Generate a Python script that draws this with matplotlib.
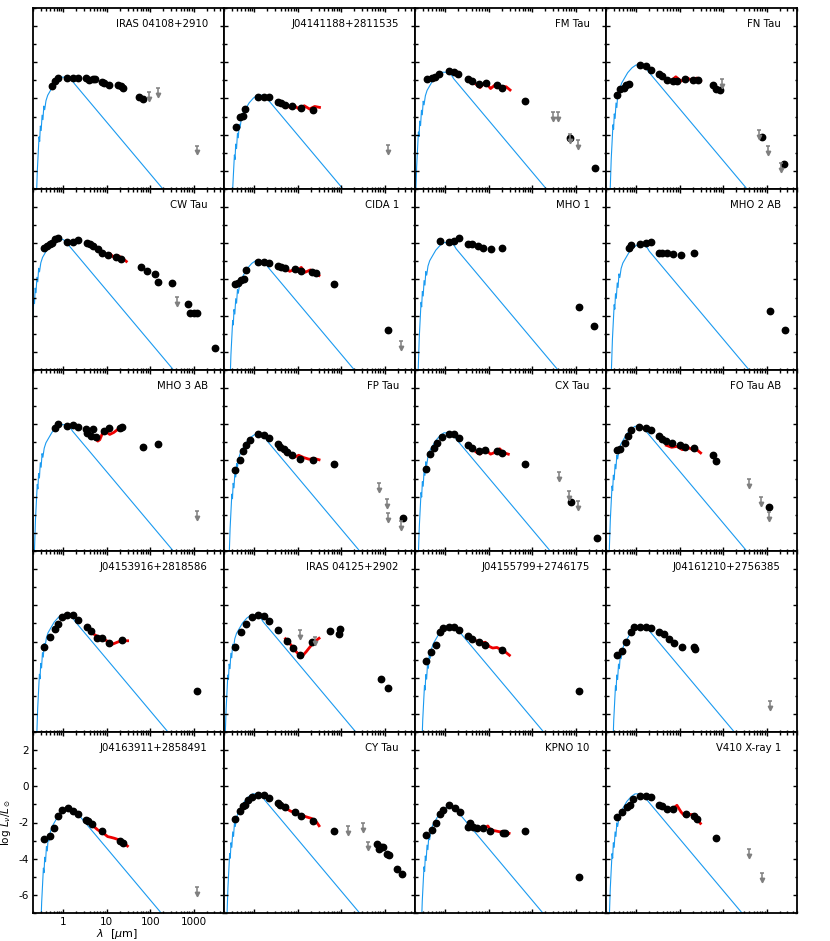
import matplotlib
matplotlib.use("Agg")
import matplotlib.pyplot as plt
import matplotlib.ticker as mticker
import numpy as np

plt.rcParams['font.family'] = 'DejaVu Sans'
plt.rcParams['axes.unicode_minus'] = False

names = ["IRAS 04108+2910", "J04141188+2811535", "FM Tau", "FN Tau",
         "CW Tau", "CIDA 1", "MHO 1", "MHO 2 AB",
         "MHO 3 AB", "FP Tau", "CX Tau", "FO Tau AB",
         "J04153916+2818586", "IRAS 04125+2902", "J04155799+2746175", "J04161210+2756385",
         "J04163911+2858491", "CY Tau", "KPNO 10", "V410 X-ray 1"]

# photometry (wavelength in micron, log L)
phot_wl = [
    [0.55, 0.64, 0.77, 1.24, 1.68, 2.15, 3.35, 3.85, 4.7, 5.4, 7.7, 8.6, 11.4, 17.7, 20.9, 23.3, 55, 67],
    [0.37, 0.46, 0.54, 0.62, 1.24, 1.63, 2.15, 3.45, 4.2, 5.2, 7.3, 12.0, 22.0],
    [0.38, 0.48, 0.58, 0.73, 1.2, 1.6, 2.0, 3.3, 4.2, 6.0, 8.8, 15.4, 20.0, 67, 745, 2740],
    [0.356, 0.43, 0.51, 0.585, 0.67, 1.24, 1.63, 2.15, 3.26, 3.95, 5.2, 6.9, 8.6, 13.0, 19.8, 26.0, 57, 69, 83, 765, 2520],
    [0.366, 0.42, 0.48, 0.55, 0.64, 0.77, 1.24, 1.68, 2.2, 3.55, 4.1, 4.7, 6.2, 7.7, 10.7, 16.3, 21.5, 61.5, 86, 130, 149, 324, 724, 832, 1040, 1190, 3140],
    [0.366, 0.43, 0.50, 0.57, 0.65, 1.24, 1.63, 2.15, 3.45, 4.2, 5.2, 8.6, 12.0, 21.0, 26.0, 67, 1190],
    [0.77, 1.2, 1.6, 2.1, 3.26, 4.2, 5.5, 7.3, 11.0, 20.0, 1190, 2590],
    [0.67, 0.77, 1.24, 1.63, 2.15, 3.26, 3.95, 5.2, 6.9, 10.7, 21.0, 1190, 2590],
    [0.64, 0.77, 1.24, 1.68, 2.2, 3.35, 3.55, 4.3, 4.7, 5.7, 8.85, 11.4, 20.3, 22.7, 69, 149],
    [0.366, 0.456, 0.54, 0.64, 0.79, 1.24, 1.63, 2.15, 3.45, 3.96, 4.7, 5.5, 7.3, 11.4, 22.7, 67, 2660],
    [0.356, 0.44, 0.55, 0.65, 0.82, 1.2, 1.6, 2.1, 3.26, 4.07, 5.8, 8.4, 15.4, 20.3, 67, 787, 3150],
    [0.356, 0.43, 0.54, 0.65, 0.77, 1.17, 1.63, 2.15, 3.26, 3.96, 4.7, 6.5, 9.9, 13.0, 21.0, 57, 69, 1150],
    [0.366, 0.48, 0.64, 0.77, 0.94, 1.24, 1.68, 2.2, 3.55, 4.4, 5.8, 7.7, 11.4, 22.7, 1190],
    [0.366, 0.50, 0.65, 0.86, 1.24, 1.63, 2.15, 3.45, 5.5, 7.9, 11.4, 21.0, 55, 88, 96, 807, 1190],
    [0.356, 0.47, 0.60, 0.77, 0.86, 1.2, 1.6, 2.1, 3.26, 4.2, 5.8, 8.4, 20.3, 1190],
    [0.356, 0.47, 0.585, 0.75, 0.89, 1.24, 1.63, 2.15, 3.26, 4.3, 5.7, 7.5, 11.4, 21.0, 22.7],
    [0.35, 0.48, 0.62, 0.77, 0.92, 1.25, 1.68, 2.19, 3.27, 3.7, 4.6, 7.8, 20.1, 23.9],
    [0.366, 0.456, 0.54, 0.62, 0.71, 0.86, 1.24, 1.63, 2.15, 3.45, 3.96, 5.2, 8.6, 12.0, 22.0, 67, 667, 724, 809, 903, 1160, 1260, 1910, 2450],
    [0.357, 0.49, 0.61, 0.755, 0.9, 1.23, 1.66, 2.15, 3.33, 3.63, 4.3, 5.3, 7.3, 10.7, 21.5, 24.0, 68, 1210],
    [0.356, 0.47, 0.62, 0.71, 0.82, 1.24, 1.63, 2.15, 3.26, 3.96, 5.2, 6.9, 14.2, 21.0, 24.7, 69],
]
phot_y = [
    [-1.31, -1.05, -0.85, -0.85, -0.85, -0.89, -0.87, -0.98, -0.91, -0.95, -1.07, -1.13, -1.24, -1.27, -1.33, -1.44, -1.93, -2.04],
    [-3.55, -3.04, -2.95, -2.58, -1.89, -1.89, -1.89, -2.18, -2.25, -2.36, -2.40, -2.55, -2.64],
    [-0.91, -0.87, -0.82, -0.67, -0.47, -0.55, -0.62, -0.91, -1.04, -1.22, -1.13, -1.27, -1.40, -2.15, -4.18, -5.82],
    [-1.82, -1.49, -1.40, -1.27, -1.22, -0.13, -0.22, -0.40, -0.67, -0.76, -0.98, -1.04, -1.04, -0.95, -1.00, -0.98, -1.27, -1.49, -1.53, -4.13, -5.62],
    [-0.24, -0.15, -0.02, 0.04, 0.22, 0.27, 0.09, 0.09, 0.16, 0.04, -0.02, -0.15, -0.33, -0.51, -0.65, -0.75, -0.87, -1.33, -1.51, -1.69, -2.15, -2.20, -3.33, -3.87, -3.87, -3.87, -5.78],
    [-2.24, -2.20, -2.05, -1.96, -1.47, -1.05, -1.05, -1.11, -1.24, -1.29, -1.36, -1.42, -1.55, -1.60, -1.65, -2.24, -4.78],
    [0.13, 0.09, 0.13, 0.31, -0.02, -0.02, -0.15, -0.27, -0.33, -0.24, -3.51, -4.55],
    [-0.27, -0.09, -0.02, 0.00, 0.09, -0.56, -0.51, -0.56, -0.60, -0.64, -0.56, -3.75, -4.78],
    [-0.20, 0.04, -0.07, -0.02, -0.15, -0.25, -0.47, -0.62, -0.25, -0.69, -0.38, -0.20, -0.20, -0.15, -1.25, -1.07],
    [-2.53, -1.96, -1.47, -1.16, -0.87, -0.56, -0.60, -0.75, -1.11, -1.24, -1.35, -1.53, -1.71, -1.89, -1.98, -2.20, -5.16],
    [-2.47, -1.65, -1.29, -1.05, -0.69, -0.51, -0.51, -0.75, -1.16, -1.29, -1.47, -1.42, -1.47, -1.60, -2.20, -4.29, -6.29],
    [-1.42, -1.35, -1.05, -0.62, -0.29, -0.15, -0.20, -0.33, -0.65, -0.80, -0.93, -1.02, -1.16, -1.24, -1.29, -1.71, -2.02, -4.56],
    [-2.33, -1.73, -1.31, -1.02, -0.65, -0.51, -0.55, -0.82, -1.20, -1.42, -1.78, -1.82, -2.09, -1.91, -4.76],
    [-2.33, -1.49, -1.05, -0.64, -0.55, -0.58, -0.87, -1.36, -1.96, -2.36, -2.73, -2.00, -1.42, -1.60, -1.31, -4.09, -4.58],
    [-3.05, -2.58, -2.18, -1.45, -1.27, -1.18, -1.18, -1.36, -1.67, -1.85, -2.04, -2.22, -2.45, -4.76],
    [-2.73, -2.51, -2.04, -1.45, -1.18, -1.18, -1.18, -1.24, -1.45, -1.60, -1.85, -2.09, -2.33, -2.33, -2.40],
    [-2.91, -2.73, -2.32, -1.64, -1.33, -1.22, -1.36, -1.53, -1.86, -1.92, -2.08, -2.45, -3.02, -3.15],
    [-1.78, -1.38, -1.09, -1.02, -0.78, -0.60, -0.47, -0.47, -0.65, -0.91, -1.02, -1.15, -1.42, -1.64, -1.93, -2.47, -3.20, -3.45, -3.33, -3.38, -3.75, -3.82, -4.55, -4.84],
    [-2.69, -2.41, -2.05, -1.53, -1.31, -1.05, -1.22, -1.42, -2.23, -2.05, -2.27, -2.32, -2.32, -2.45, -2.56, -2.60, -2.45, -5.00],
    [-1.69, -1.42, -1.15, -1.02, -0.69, -0.51, -0.51, -0.60, -1.02, -1.09, -1.24, -1.27, -1.51, -1.64, -1.78, -2.87],
]

# IRS spectra (red)
irs_wl = [
    [],
    [5.0, 6.6, 8.3, 10.7, 14.1, 18.6, 24.5, 31.6],
    [5.1, 6.3, 8.3, 11.0, 14.5, 19.1, 25.1, 30.9],
    [4.7, 6.2, 8.1, 10.7, 14.1, 18.6, 24.5, 30.2],
    [5.1, 6.2, 7.7, 9.3, 11.7, 14.1, 18.6, 22.7, 28.2],
    [5.2, 6.5, 7.9, 9.5, 12.0, 14.8, 19.5, 24.5, 30.9],
    [],
    [],
    [5.4, 6.2, 6.9, 8.1, 9.5, 11.7, 14.5, 18.6, 22.7],
    [5.2, 6.5, 8.1, 10.5, 13.8, 18.2, 24.0, 30.9],
    [5.1, 6.3, 8.3, 11.0, 14.5, 17.8, 21.4, 28.2],
    [4.9, 6.5, 8.6, 11.4, 15.0, 19.8, 24.5, 30.2],
    [4.7, 6.2, 8.1, 10.7, 13.5, 17.4, 21.4, 30.2],
    [5.2, 6.9, 9.1, 12.0, 15.8, 20.9, 26.1, 30.9],
    [5.1, 6.3, 8.3, 10.2, 12.3, 15.4, 19.2, 23.3, 29.9],
    [],
    [5.1, 6.2, 7.4, 8.8, 10.5, 12.5, 14.9, 17.7, 21.2, 25.2, 29.9],
    [5.2, 6.9, 9.1, 12.0, 15.8, 20.9, 27.5, 30.9],
    [5.2, 6.7, 8.4, 9.5, 10.7, 13.4, 17.5, 22.6, 29.4],
    [4.7, 5.7, 6.9, 8.6, 10.7, 13.0, 15.8, 19.8, 24.7, 29.9],
]
irs_y = [
    [],
    [-2.36, -2.49, -2.40, -2.58, -2.40, -2.58, -2.44, -2.49],
    [-1.22, -1.40, -1.09, -1.45, -1.22, -1.35, -1.35, -1.53],
    [-0.95, -1.04, -0.80, -1.04, -0.85, -0.98, -0.87, -1.04],
    [-0.20, -0.42, -0.51, -0.64, -0.56, -0.75, -0.69, -0.82, -1.00],
    [-1.36, -1.55, -1.47, -1.55, -1.33, -1.60, -1.47, -1.65, -1.78],
    [],
    [],
    [-0.75, -0.93, -0.85, -0.45, -0.40, -0.56, -0.45, -0.25, -0.12],
    [-1.56, -1.65, -1.84, -1.71, -1.84, -1.93, -1.89, -1.96],
    [-1.53, -1.65, -1.38, -1.65, -1.53, -1.35, -1.56, -1.65],
    [-1.16, -1.27, -1.22, -1.40, -1.27, -1.40, -1.40, -1.58],
    [-1.55, -1.73, -1.85, -2.00, -2.15, -2.04, -1.96, -1.96],
    [-1.85, -2.18, -2.55, -2.87, -2.55, -2.18, -1.96, -1.82],
    [-1.96, -2.09, -2.04, -2.27, -2.36, -2.33, -2.45, -2.55, -2.76],
    [],
    [-2.23, -2.41, -2.51, -2.63, -2.78, -2.82, -2.87, -2.93, -3.06, -3.15, -3.30],
    [-1.20, -1.38, -1.45, -1.60, -1.69, -1.78, -2.00, -2.18],
    [-2.32, -2.32, -2.27, -2.19, -2.38, -2.45, -2.51, -2.51, -2.60],
    [-1.20, -1.27, -1.24, -1.05, -1.42, -1.64, -1.56, -1.56, -1.78, -2.05],
]

# upper limits (gray arrows)
lim_wl = [
    [96, 148, 1200], [1200], [307, 400, 745, 1130], [93, 667, 1070, 2140],
    [405], [2320], [], [],
    [1190], [724, 1130, 1190, 2320], [405, 705, 1130], [394, 724, 1130],
    [], [11.4, 24.7], [], [1190],
    [1200], [145, 316, 405], [], [394, 766],
]
lim_y = [
    [-1.64, -1.40, -4.60], [-4.58], [-2.76, -2.76, -3.95, -4.31], [-0.95, -3.76, -4.62, -5.58],
    [-2.96], [-5.42], [], [],
    [-4.80], [-3.24, -4.15, -4.89, -5.35], [-2.65, -3.71, -4.25], [-3.04, -4.04, -4.85],
    [], [-1.36, -1.73], [], [-5.27],
    [-5.55], [-2.18, -2.05, -3.05], [], [-3.45, -4.78],
]

# photosphere: shape, relative to its peak
phot_dlog = [-0.66, -0.60, -0.56, -0.545, -0.53, -0.51, -0.49, -0.47, -0.45, -0.43,
             -0.40, -0.36, -0.30, -0.22, -0.12, -0.03, 0.10, 0.20, 0.25, 0.32, 3.0]
phot_dy = [-9.5, -5.2, -3.3, -3.55, -2.7, -2.95, -2.1, -2.35, -1.6, -1.8,
           -1.3, -1.0, -0.75, -0.42, -0.15, 0.0, 0.0, -0.15, -0.35, -0.55, -8.2]
peak_wl = [1.0, 1.26, 0.87, 1.05, 0.76, 1.15, 1.0, 1.12, 0.91, 1.1,
           1.0, 1.0, 1.02, 0.89, 1.2, 1.2, 1.26, 0.98, 1.17, 1.0]
peak_y = [-0.82, -1.82, -0.55, -0.15, 0.22, -0.96, 0.04, -0.09, -0.02, -0.56,
          -0.47, -0.11, -0.51, -0.55, -1.13, -1.15, -1.22, -0.42, -1.15, -0.42]

blue = '#1a9af0'
gray = '#7f7f7f'

fig, axes = plt.subplots(5, 4, figsize=(8.3, 9.41), dpi=100)
fig.subplots_adjust(left=33 / 830, right=797 / 830, top=1 - 8 / 941,
                    bottom=1 - 913 / 941, wspace=0, hspace=0)

for i, ax in enumerate(axes.flat):
    r, c = divmod(i, 4)
    ax.set_xscale('log')
    # photosphere
    bx = peak_wl[i] * 10 ** np.array(phot_dlog)
    by = peak_y[i] + np.array(phot_dy)
    ax.plot(bx, by, color=blue, lw=0.8, zorder=1)
    # spectrum
    if irs_wl[i]:
        ax.plot(irs_wl[i], irs_y[i], color='#ee0000', lw=2.0, zorder=2)
    # photometry
    ax.plot(phot_wl[i], phot_y[i], 'o', color='black', ms=4.6, zorder=3)
    # upper limits
    if lim_wl[i]:
        lw_ = np.array(lim_wl[i])
        ly = np.array(lim_y[i])
        ax.vlines(lw_, ly - 0.38, ly, color=gray, lw=1.1, zorder=3)
        ax.plot(lw_, ly - 0.38, 'v', color=gray, ms=3.2, zorder=3)
        ax.plot(lw_, ly, '_', color=gray, ms=3.5, mew=1.1, zorder=3)

    ax.text(0.915, 0.91, names[i], transform=ax.transAxes, ha='right',
            va='center', fontsize=7.3)

    ax.set_xlim(0.2, 5000)
    ax.set_ylim(-7, 3)
    ax.xaxis.set_major_locator(mticker.LogLocator(base=10, numticks=10))
    ax.xaxis.set_minor_locator(mticker.LogLocator(base=10, subs=np.arange(2, 10), numticks=10))
    ax.xaxis.set_major_formatter(mticker.FuncFormatter(lambda v, p: f'{v:g}'))
    ax.xaxis.set_minor_formatter(mticker.NullFormatter())
    ax.yaxis.set_major_locator(mticker.MultipleLocator(2))
    ax.yaxis.set_minor_locator(mticker.MultipleLocator(1))
    ax.tick_params(which='both', direction='in', top=True, right=True,
                   width=1.0, labelsize=7.5, pad=3)
    ax.tick_params(which='major', length=3.2)
    ax.tick_params(which='minor', length=1.8)
    for s in ax.spines.values():
        s.set_linewidth(1.3)
    if not (r == 4 and c == 0):
        ax.tick_params(labelbottom=False, labelleft=False)

ax0 = axes[4, 0]
ax0.set_ylabel(r'log $L_\nu/L_\odot$', fontsize=7.5)
ax0.yaxis.set_label_coords(-0.105, 0.5)
ax0.set_xlabel(r'$\lambda$  [$\mu$m]', fontsize=8)
ax0.xaxis.set_label_coords(0.44, -0.075)

fig.savefig('out.png', dpi=100)
